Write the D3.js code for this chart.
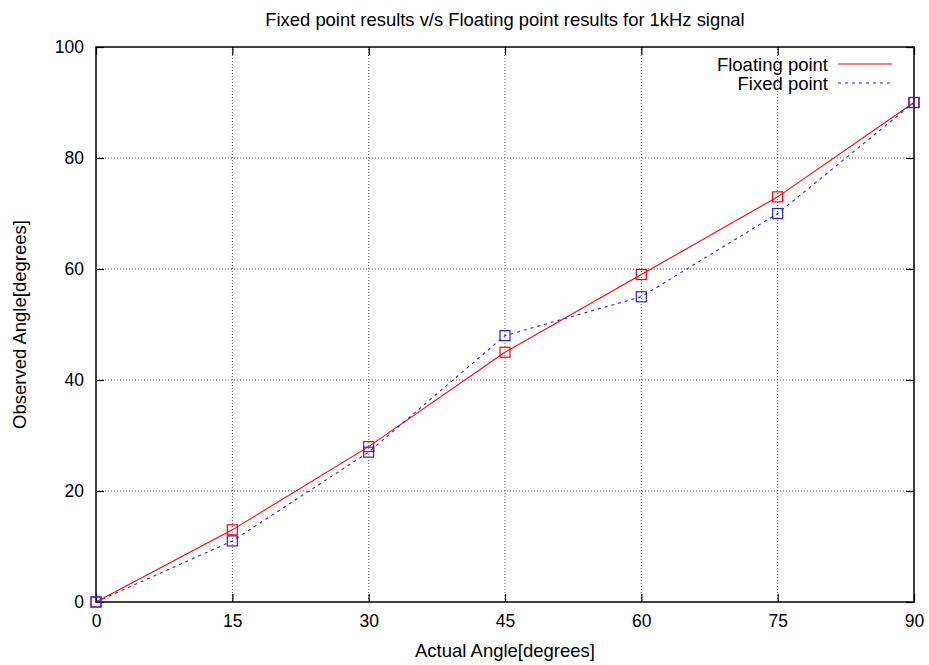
<!DOCTYPE html>
<html>
<head>
<meta charset="utf-8">
<script src="https://cdn.jsdelivr.net/npm/d3@7"></script>
<style>
  body { margin: 0; background: #fff; }
  svg text { font-family: "Liberation Sans", Arial, sans-serif; }
</style>
</head>
<body>
<div id="chart"></div>
<script>
// data
const angles = [0, 15, 30, 45, 60, 75, 90];
const floatingVals = [0, 13, 28, 45, 59, 73, 90];
const fixedVals = [0, 11, 27, 48, 55, 70, 90];
const xTicks = [0, 15, 30, 45, 60, 75, 90];
const yTicks = [0, 20, 40, 60, 80, 100];

const width = 929, height = 665;
const margin = { top: 47, right: 15, bottom: 63, left: 96 };
const innerW = width - margin.left - margin.right;
const innerH = height - margin.top - margin.bottom;

const svg = d3.select("#chart").append("svg")
    .attr("width", width).attr("height", height);

const x = d3.scaleLinear().domain([0, 90]).range([margin.left, margin.left + innerW]);
const y = d3.scaleLinear().domain([0, 100]).range([margin.top + innerH, margin.top]);

// 网格
const grid = svg.append("g").attr("stroke", "#555").attr("stroke-width", 1).attr("stroke-dasharray", "1,2");
xTicks.slice(1, -1).forEach(t => {
    grid.append("line").attr("x1", x(t)).attr("x2", x(t)).attr("y1", y(0)).attr("y2", y(100));
});
yTicks.slice(1, -1).forEach(t => {
    grid.append("line").attr("x1", x(0)).attr("x2", x(90)).attr("y1", y(t)).attr("y2", y(t));
});

// 坐标轴 (gnuplot 风格，刻度向内，四边镜像)
const tickLen = 8;
const axisStyle = g => {
    g.select(".domain").remove();
    g.selectAll(".tick line").attr("stroke", "#000").attr("stroke-width", 1.2);
    g.selectAll(".tick text").attr("font-size", 17.5).attr("fill", "#000");
};
svg.append("g").attr("transform", `translate(0,${y(0)})`)
    .call(d3.axisBottom(x).tickValues(xTicks).tickSize(-tickLen).tickPadding(13))
    .call(axisStyle);
svg.append("g").attr("transform", `translate(0,${y(100)})`)
    .call(d3.axisTop(x).tickValues(xTicks).tickSize(-tickLen).tickFormat(""))
    .call(axisStyle);
svg.append("g").attr("transform", `translate(${x(0)},0)`)
    .call(d3.axisLeft(y).tickValues(yTicks).tickSize(-tickLen).tickPadding(12))
    .call(axisStyle);
svg.append("g").attr("transform", `translate(${x(90)},0)`)
    .call(d3.axisRight(y).tickValues(yTicks).tickSize(-tickLen).tickFormat(""))
    .call(axisStyle);

svg.append("rect")
    .attr("x", x(0)).attr("y", y(100))
    .attr("width", x(90) - x(0)).attr("height", y(0) - y(100))
    .attr("fill", "none").attr("stroke", "#000").attr("stroke-width", 1.5);

// 系列
const series = [
    { name: "Floating point", vals: floatingVals, color: "#ff0000", dash: null },
    { name: "Fixed point", vals: fixedVals, color: "#2020ff", dash: "3,4" }
];
const line = d3.line().x(d => x(d[0])).y(d => y(d[1]));
const ms = 10;

series.forEach(s => {
    const pts = angles.map((a, i) => [a, s.vals[i]]);
    svg.append("path").datum(pts)
        .attr("d", line)
        .attr("fill", "none")
        .attr("stroke", s.color)
        .attr("stroke-width", 1.1)
        .attr("stroke-dasharray", s.dash);
    svg.append("g").selectAll("rect").data(pts).join("rect")
        .attr("x", d => x(d[0]) - ms / 2).attr("y", d => y(d[1]) - ms / 2)
        .attr("width", ms).attr("height", ms)
        .attr("fill", "none").attr("stroke", s.color).attr("stroke-width", 1.2);
});

// 图例
const legend = svg.append("g");
series.forEach((s, i) => {
    const ly = 64 + i * 19;
    legend.append("text").attr("x", 828).attr("y", ly + 7)
        .attr("text-anchor", "end").attr("font-size", 18.5).text(s.name);
    legend.append("line").attr("x1", 838).attr("x2", 892).attr("y1", ly).attr("y2", ly)
        .attr("stroke", s.color).attr("stroke-width", 1.1).attr("stroke-dasharray", s.dash);
});

// 标题与轴标签
svg.append("text").attr("x", 505).attr("y", 26).attr("text-anchor", "middle")
    .attr("font-size", 18.4).text("Fixed point results v/s Floating point results for 1kHz signal");
svg.append("text").attr("x", 505).attr("y", 657).attr("text-anchor", "middle")
    .attr("font-size", 18.5).text("Actual Angle[degrees]");
svg.append("text").attr("transform", `translate(26,${y(50)}) rotate(-90)`)
    .attr("text-anchor", "middle").attr("font-size", 18.5).text("Observed Angle[degrees]");
</script>
</body>
</html>
